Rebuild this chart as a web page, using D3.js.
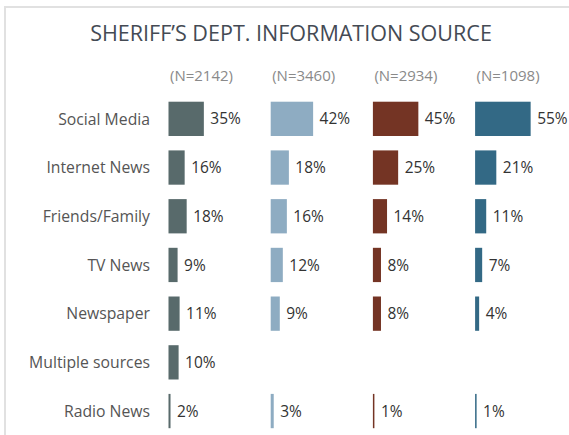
<!DOCTYPE html>
<html>
<head>
<meta charset="utf-8">
<script src="https://cdn.jsdelivr.net/npm/d3@7"></script>
<style>
  html, body { margin: 0; padding: 0; background: #fff; }
  svg { display: block; }
  text { font-family: "Open Sans", sans-serif; }
</style>
</head>
<body>
<svg id="chart" width="569" height="435"></svg>
<script>
// Information sources, one row per source
const sources = ["Social Media", "Internet News", "Friends/Family", "TV News",
                 "Newspaper", "Multiple sources", "Radio News"];

// Survey groups (columns) with their sample sizes
const groupNs = [2142, 3460, 2934, 1098];

// Share (%) citing each source, per group; null where not asked
const group1 = [35, 16, 18, 9, 11, 10, 2];
const group2 = [42, 18, 16, 12, 9, null, 3];
const group3 = [45, 25, 14, 8, 8, null, 1];
const group4 = [55, 21, 11, 7, 4, null, 1];

const groupColors = ["#586a6b", "#8eacc2", "#743424", "#336985"];

const series = [group1, group2, group3, group4];

const W = 569, H = 435;
const svg = d3.select("#chart");

// light frame along the top and left edges
svg.append("line").attr("x1", 5).attr("x2", W).attr("y1", 7).attr("y2", 7)
   .attr("stroke", "#e1e1e1").attr("stroke-width", 2);
svg.append("line").attr("x1", 5).attr("x2", 5).attr("y1", 6).attr("y2", H)
   .attr("stroke", "#e1e1e1").attr("stroke-width", 2);

// fit a text element's font size so its rendered width equals target
function fitWidth(sel, target) {
  const node = sel.node();
  sel.style("font-size", "100px");
  const len = node.getComputedTextLength();
  const size = 100 * target / len;
  sel.style("font-size", size + "px");
  return size;
}

// title
const title = svg.append("text")
  .attr("x", 291).attr("y", 41)
  .attr("text-anchor", "middle")
  .attr("fill", "#444a54")
  .text("SHERIFF\u2019S DEPT. INFORMATION SOURCE");
fitWidth(title, 402);

// scales
const y = d3.scaleBand().domain(sources).range([94.5, 435.4]).paddingInner(0.296).paddingOuter(0.148);
const panel = d3.scaleBand().domain(d3.range(groupNs.length)).range([168.5, 168.5 + 4 * 102.2]);
const x = d3.scaleLinear().domain([0, 100]).range([0, 101]);

// row labels
const probe = svg.append("text").text("Multiple sources");
const labelSize = fitWidth(probe, 121);
probe.remove();

svg.append("g").selectAll("text")
  .data(sources).join("text")
  .attr("x", 150)
  .attr("y", d => y(d) + y.bandwidth() / 2)
  .attr("dy", "0.36em")
  .attr("text-anchor", "end")
  .attr("fill", "#555")
  .style("font-size", labelSize + "px")
  .text(d => d);

// group headers
const nProbe = svg.append("text").text("(N=2142)");
const nSize = fitWidth(nProbe, 63);
nProbe.remove();

svg.append("g").selectAll("text")
  .data(groupNs).join("text")
  .attr("x", (d, i) => panel(i) + 1.5)
  .attr("y", 80.5)
  .attr("fill", "#8a8a8a")
  .style("font-size", nSize + "px")
  .text(d => `(N=${d})`);

// value label size
const vProbe = svg.append("text").text("35%");
const vSize = fitWidth(vProbe, 30.5);
vProbe.remove();

// bars and value labels per group
series.forEach((vals, i) => {
  const rows = sources.map((s, j) => ({ source: s, value: vals[j] })).filter(d => d.value != null);
  const g = svg.append("g").attr("transform", `translate(${panel(i)},0)`);

  g.selectAll("rect").data(rows).join("rect")
    .attr("x", 0)
    .attr("y", d => y(d.source))
    .attr("width", d => Math.max(1.5, x(d.value)))
    .attr("height", y.bandwidth())
    .attr("fill", groupColors[i]);

  g.selectAll("text").data(rows).join("text")
    .attr("x", d => Math.max(1.5, x(d.value)) + 6.5)
    .attr("y", d => y(d.source) + y.bandwidth() / 2)
    .attr("dy", "0.36em")
    .attr("fill", "#333")
    .style("font-size", vSize + "px")
    .text(d => d.value + "%");
});
</script>
</body>
</html>
